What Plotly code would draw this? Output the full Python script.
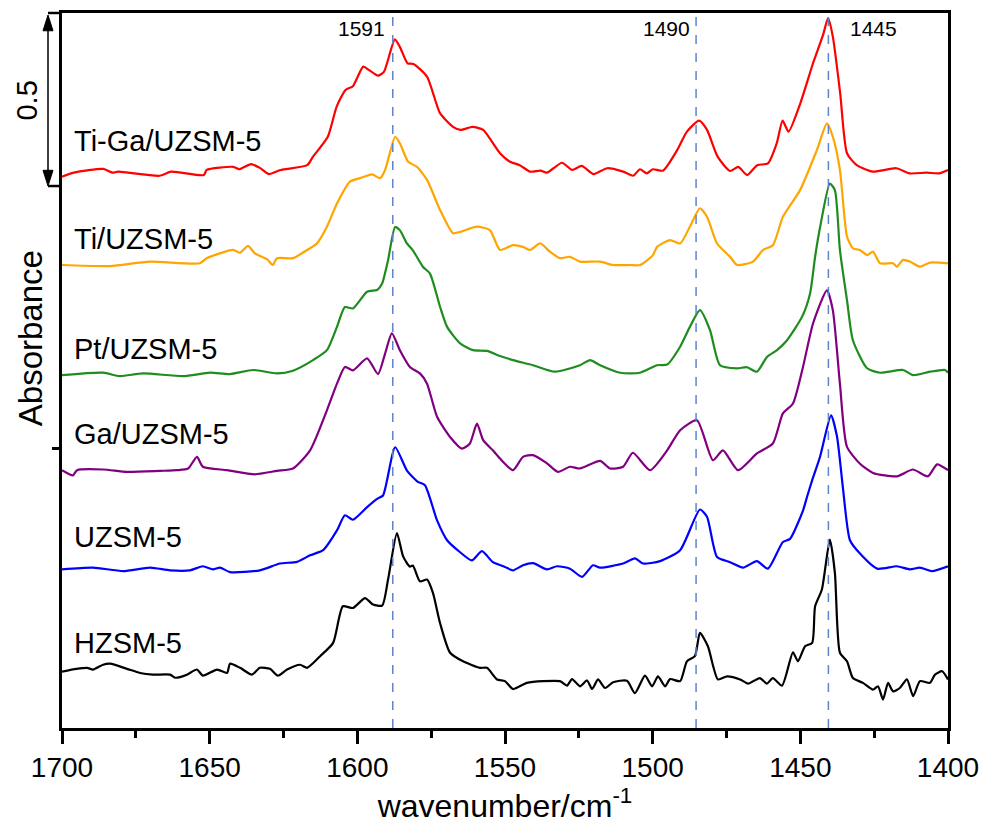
import plotly.graph_objects as go

# ---------------- data (absorbance relative to each spectrum's baseline) ----------------
series_names = ["Ti-Ga/UZSM-5", "Ti/UZSM-5", "Pt/UZSM-5", "Ga/UZSM-5", "UZSM-5", "HZSM-5"]
series_colors = ["#FF0000", "#FFA500", "#1E8C1E", "#800080", "#0000FF", "#000000"]
offsets = [1.626, 1.354, 1.032, 0.754, 0.464, 0.165]

tiga_wn = [1700, 1696, 1686, 1683, 1681, 1667, 1663, 1652, 1651, 1642, 1640, 1636, 1633, 1630, 1626,
           1617, 1615, 1610, 1607, 1604, 1601.5, 1598, 1596, 1593, 1591, 1587.3, 1585.6, 1583, 1581,
           1576.4, 1572, 1567.6, 1565, 1561, 1557.4, 1551.7, 1548.3, 1545, 1541.5, 1538, 1535.8,
           1530.7, 1527.3, 1524, 1520, 1515.4, 1510, 1506.6, 1504.3, 1502, 1500, 1496.5, 1491.7,
           1488.4, 1484.3, 1481.6, 1478, 1473.8, 1471, 1468, 1464.6, 1461, 1458, 1456, 1454, 1450,
           1445.7, 1442.3, 1440.6, 1439, 1436.5, 1434.2, 1430.9, 1425.4, 1417.5, 1413, 1407.3, 1403, 1400]
tiga_abs = [-0.014, -0.002, 0.009, -0.002, 0.001, -0.011, 0.001, -0.009, 0.006, 0.015, 0.008, 0.023,
            0.012, -0.006, 0.006, 0.020, 0.045, 0.103, 0.191, 0.240, 0.251, 0.308, 0.298, 0.282, 0.293,
            0.388, 0.366, 0.318, 0.316, 0.279, 0.172, 0.132, 0.123, 0.132, 0.123, 0.055, 0.030, 0.020,
            0.001, 0.004, -0.002, 0.027, 0.006, 0.018, -0.006, 0.011, 0.001, -0.011, 0.008, -0.004,
            0.008, 0.004, 0.064, 0.118, 0.150, 0.123, 0.045, 0.003, 0.015, -0.009, 0.020, 0.025, 0.084,
            0.150, 0.118, 0.201, 0.318, 0.401, 0.450, 0.396, 0.230, 0.055, 0.020, 0.001, 0.011, -0.004,
            -0.002, -0.004, 0.006]

ti_wn = [1700, 1683.7, 1670.2, 1653.3, 1651, 1642.1, 1639.7, 1637, 1634.7, 1630.6, 1628.6, 1627.2,
         1621.8, 1617, 1613.7, 1610.3, 1606.9, 1602.5, 1599.1, 1595, 1592.3, 1590.6, 1587.2, 1585.6,
         1582.8, 1579.8, 1576.4, 1572, 1567.6, 1565.2, 1559.5, 1555.1, 1551.7, 1547.3, 1543.9, 1541.5,
         1538.1, 1534.8, 1531.4, 1528, 1524.6, 1517.8, 1513.4, 1507.7, 1504.3, 1499.9, 1498.5, 1494.1,
         1490.7, 1487.4, 1484, 1481.6, 1478.2, 1473.8, 1471.4, 1466, 1462.6, 1459.3, 1455.9, 1450.1,
         1444.4, 1441, 1439, 1436.6, 1434.2, 1432.2, 1429.8, 1427.4, 1425.4, 1423, 1418.6, 1417.3,
         1415.2, 1412.9, 1409.5, 1406.1, 1400]
ti_abs = [0, -0.003, 0.010, 0.005, 0.020, 0.044, 0.036, 0.056, 0.034, 0.017, 0, 0.020, 0.020, 0.044,
          0.063, 0.112, 0.180, 0.244, 0.254, 0.265, 0.254, 0.278, 0.375, 0.356, 0.302, 0.287, 0.249,
          0.161, 0.093, 0.097, 0.112, 0.102, 0.044, 0.058, 0.053, 0.044, 0.063, 0.039, 0.020, 0.024,
          0.010, 0.010, 0, 0, 0, 0.029, 0.053, 0.073, 0.063, 0.112, 0.166, 0.141, 0.063, 0.024, 0,
          0.010, 0.044, 0.058, 0.141, 0.219, 0.336, 0.414, 0.375, 0.278, 0.083, 0.049, 0.044, 0.029,
          0.039, 0.005, 0.005, -0.005, 0.015, 0.010, -0.005, 0.007, 0.005]

pt_wn = [1700, 1686.1, 1680.4, 1672.6, 1659, 1649.9, 1643.1, 1635.3, 1627.2, 1621.8, 1615, 1610.3,
         1606.9, 1604.2, 1601.5, 1596.7, 1593.3, 1591.6, 1589.6, 1587.2, 1585.6, 1583.2, 1581.2,
         1577.8, 1575.4, 1572, 1569.6, 1565.2, 1560.8, 1556.1, 1551.7, 1547.3, 1540.5, 1533.1, 1524.6,
         1521.2, 1517.8, 1511, 1504.3, 1498.5, 1495.1, 1490.7, 1487.4, 1484, 1480.6, 1477.2, 1471.4,
         1468.1, 1464.7, 1461.3, 1457.9, 1454.5, 1449.4, 1446.7, 1445, 1443.3, 1440, 1438.3, 1436.6,
         1434.2, 1432.2, 1427.4, 1423, 1415.2, 1411.8, 1406.1, 1401, 1400]
pt_abs = [0, 0.007, -0.003, 0.005, -0.003, 0.007, 0.003, 0.015, 0.005, 0.013, 0.044, 0.073, 0.141,
          0.199, 0.195, 0.244, 0.249, 0.268, 0.336, 0.433, 0.424, 0.385, 0.365, 0.317, 0.297, 0.200,
          0.141, 0.093, 0.073, 0.071, 0.056, 0.044, 0.029, 0.010, 0.029, 0.044, 0.029, 0.007, 0.007,
          0.029, 0.031, 0.083, 0.141, 0.190, 0.132, 0.029, 0.020, 0.023, 0.010, 0.053, 0.073, 0.102,
          0.171, 0.239, 0.346, 0.433, 0.560, 0.541, 0.366, 0.219, 0.102, 0.020, 0.007, 0.015, 0,
          0.010, 0.015, 0.007]

ga_wn = [1700, 1696.3, 1694.9, 1686.1, 1678, 1666.8, 1661, 1657.3, 1654.3, 1652.3, 1644.1, 1634.7,
         1627.2, 1621.8, 1616, 1610.3, 1606.9, 1604.2, 1601.5, 1596.7, 1593, 1590.6, 1588.3, 1585.6,
         1582.2, 1578.8, 1576.4, 1573, 1568.6, 1564.6, 1561.9, 1559.5, 1557.4, 1554.1, 1551.7, 1547.3,
         1543.9, 1540.5, 1535.8, 1532.1, 1528, 1524.6, 1517.8, 1514.4, 1510, 1506.7, 1500.9, 1495.1,
         1490.7, 1485, 1479.6, 1476.2, 1471.1, 1464.7, 1459.3, 1455.9, 1452.5, 1449.1, 1445.7, 1441,
         1439, 1436.6, 1434.2, 1429.8, 1425.4, 1417.3, 1411.9, 1406.8, 1403.7, 1400]
ga_abs = [0, -0.015, 0, 0.002, -0.005, -0.002, 0, 0.005, 0.039, 0.010, 0, -0.012, -0.002, 0.005,
          0.058, 0.175, 0.253, 0.302, 0.292, 0.327, 0.281, 0.341, 0.400, 0.351, 0.302, 0.283, 0.253,
          0.156, 0.097, 0.063, 0.078, 0.136, 0.088, 0.058, 0.034, 0, 0.039, 0.044, 0.020, -0.005,
          0.010, 0.005, 0.027, 0.005, 0.010, 0.051, 0, 0.058, 0.117, 0.146, 0.029, 0.058, 0, 0.049,
          0.078, 0.166, 0.195, 0.302, 0.429, 0.526, 0.468, 0.253, 0.068, 0.019, -0.008, -0.018,
          0.002, -0.018, 0.017, 0]

u_wn = [1700, 1689.5, 1679.3, 1670.2, 1663.4, 1656.7, 1652.3, 1648.9, 1646.5, 1643.1, 1633, 1626.2,
        1620.4, 1616, 1611.6, 1606.9, 1604.2, 1601.5, 1596.7, 1593.3, 1591.3, 1587.2, 1583.2, 1579.5,
        1577.1, 1573, 1569.6, 1565.2, 1561.2, 1557.8, 1554.1, 1550, 1547.3, 1543.9, 1540.5, 1535.8,
        1532.4, 1528, 1523.9, 1520.2, 1517.8, 1510, 1506, 1503.3, 1497.5, 1490.7, 1484, 1481.6,
        1478.2, 1473.8, 1469.4, 1464.7, 1461, 1455.9, 1453.5, 1449.1, 1447.7, 1446, 1443.3, 1439.6,
        1437.6, 1435.6, 1433.2, 1429.8, 1424, 1417.3, 1412.9, 1409.5, 1405.4, 1400]
u_abs = [0, 0.005, -0.005, 0.005, -0.003, -0.003, 0.009, 0, 0.005, -0.008, -0.003, 0.017, 0.022,
         0.041, 0.056, 0.114, 0.158, 0.145, 0.182, 0.206, 0.216, 0.357, 0.289, 0.256, 0.246, 0.143,
         0.085, 0.050, 0.026, 0.053, 0.021, 0.007, -0.003, 0.012, 0.018, 0, 0.009, 0.002, -0.022,
         0.012, 0.005, 0.017, 0.032, 0.017, 0.024, 0.056, 0.175, 0.154, 0.036, 0.021, 0.005, 0.024,
         0.002, 0.080, 0.089, 0.172, 0.213, 0.260, 0.330, 0.450, 0.389, 0.240, 0.085, 0.046, 0.002,
         0.009, 0, 0.005, -0.005, 0.009]

h_wn = [1700, 1695.1, 1691.5, 1689.5, 1686.1, 1683.7, 1678, 1673.6, 1669.2, 1663.4, 1661.7, 1657.7,
        1654.3, 1652.3, 1647.5, 1644.1, 1643.1, 1639.7, 1635.7, 1633, 1629.6, 1626.9, 1623.8, 1619.4,
        1617, 1612.6, 1608.2, 1604.9, 1601.5, 1597.4, 1594.7, 1591.6, 1589.6, 1586.6, 1584.5, 1582.2,
        1581.2, 1578.8, 1576.4, 1574.4, 1572, 1568.6, 1564.2, 1558.5, 1556.1, 1552.7, 1550, 1547.3,
        1542.6, 1537.1, 1531.4, 1529, 1527.3, 1524.6, 1522.2, 1520.5, 1518.5, 1516.1, 1513.4, 1508.7,
        1506, 1502.6, 1500.2, 1498.2, 1495.8, 1494.1, 1490.7, 1488.4, 1485.7, 1484, 1481.3, 1477.9,
        1474.8, 1470.4, 1467.7, 1463.7, 1461.3, 1459.3, 1456.2, 1452.5, 1450.8, 1448.4, 1446, 1445,
        1442.7, 1440, 1438.3, 1436.6, 1434.2, 1432.2, 1428.8, 1425.4, 1423.7, 1422, 1420.3, 1418.6,
        1416.3, 1413.9, 1411.8, 1409.5, 1406.1, 1404.4, 1402, 1400]
h_abs = [0, 0.008, 0.011, 0.006, 0.020, 0.023, 0.008, -0.004, -0.009, -0.009, -0.018, -0.009, 0.006,
         -0.012, 0.006, -0.004, 0.023, 0.011, -0.009, 0.011, 0.008, -0.012, 0.006, 0.020, 0.011,
         0.045, 0.084, 0.191, 0.186, 0.215, 0.196, 0.193, 0.269, 0.405, 0.337, 0.307, 0.310, 0.264,
         0.269, 0.230, 0.142, 0.055, 0.030, 0.011, 0.011, -0.023, -0.028, -0.051, -0.033, -0.028,
         -0.028, -0.041, -0.022, -0.043, -0.026, -0.051, -0.023, -0.048, -0.031, -0.027, -0.063,
         -0.012, -0.043, -0.014, -0.043, -0.022, -0.028, 0.030, 0.045, 0.113, 0.074, -0.023, -0.014,
         -0.023, -0.035, -0.019, -0.035, -0.019, -0.041, 0.056, 0.030, 0.074, 0.084, 0.191, 0.240,
         0.386, 0.289, 0.055, 0.030, -0.019, -0.033, -0.053, -0.043, -0.082, -0.033, -0.058, -0.048,
         -0.023, -0.072, -0.028, -0.033, -0.009, 0.001, -0.023]

peak_positions = [1588.0, 1485.3, 1440.5]
peak_labels = ["1591", "1490", "1445"]
scale_bar_value = 0.5

spectra_wn = [tiga_wn, ti_wn, pt_wn, ga_wn, u_wn, h_wn]
spectra_abs = [tiga_abs, ti_abs, pt_abs, ga_abs, u_abs, h_abs]

# ---------------- figure ----------------
FONT = "Arial, Liberation Sans, sans-serif"
PLOT_W = 886.0
fig = go.Figure()

for name, color, off, wn, ab in zip(series_names, series_colors, offsets, spectra_wn, spectra_abs):
    fig.add_trace(go.Scatter(
        x=wn, y=[off + v for v in ab], mode="lines", name=name,
        line=dict(color=color, width=2.2, shape="spline", smoothing=0.6),
        showlegend=False, cliponaxis=True,
    ))

# dashed reference lines
for p in peak_positions:
    fig.add_shape(type="line", xref="x", yref="paper", x0=p, x1=p, y0=0, y1=1,
                  line=dict(color="#5B85CF", width=1.5, dash="dash"))

# peak labels
label_pos = [(1590.0, "right"), (1486.7, "right"), (1433.9, "left")]
for txt, (xp, anc) in zip(peak_labels, label_pos):
    fig.add_annotation(x=xp, y=2.047, xref="x", yref="y", text=txt, showarrow=False,
                       xanchor=anc, yanchor="middle", font=dict(size=21, color="#000", family=FONT))

# series labels
label_y = [1.716, 1.430, 1.108, 0.860, 0.558, 0.249]
for name, ly in zip(series_names, label_y):
    fig.add_annotation(x=1696.6, y=ly, xref="x", yref="y", text=name, showarrow=False,
                       xanchor="left", yanchor="middle", font=dict(size=29, color="#000", family=FONT))

# scale bar (0.5 absorbance): vertical double arrow with end brackets
bar_top = 2.085
bar_bottom = bar_top - scale_bar_value
bx = -14 / PLOT_W          # paper x of the arrow
head_h = 0.046             # arrow-head height (absorbance units)
head_w = 5 / PLOT_W        # arrow-head half width (paper units)
fig.add_shape(type="line", xref="paper", yref="y", x0=bx, x1=bx,
              y0=bar_bottom + head_h * 0.8, y1=bar_top - head_h * 0.8,
              line=dict(color="#000", width=1.5))
fig.add_shape(type="path", xref="paper", yref="y",
              path=f"M {bx},{bar_top} L {bx - head_w},{bar_top - head_h} L {bx + head_w},{bar_top - head_h} Z",
              fillcolor="#000", line=dict(color="#000", width=1))
fig.add_shape(type="path", xref="paper", yref="y",
              path=f"M {bx},{bar_bottom} L {bx - head_w},{bar_bottom + head_h} L {bx + head_w},{bar_bottom + head_h} Z",
              fillcolor="#000", line=dict(color="#000", width=1))
fig.add_shape(type="line", xref="paper", yref="y", x0=bx, x1=0, y0=bar_bottom, y1=bar_bottom,
              line=dict(color="#000", width=2.5))
fig.add_shape(type="line", xref="paper", yref="paper", x0=bx, x1=0, y0=1, y1=1,
              line=dict(color="#000", width=2.5))
fig.add_annotation(x=-35 / PLOT_W, y=(bar_top + bar_bottom) / 2, xref="paper", yref="y",
                   text=str(scale_bar_value), textangle=-90, showarrow=False,
                   xanchor="center", yanchor="middle",
                   font=dict(size=29, color="#000", family=FONT))

# y title
fig.add_annotation(x=-32 / PLOT_W, y=1.14, xref="paper", yref="y", text="Absorbance", textangle=-90,
                   showarrow=False, xanchor="center", yanchor="middle",
                   font=dict(size=33, color="#000", family=FONT))

fig.update_layout(
    width=985, height=825,
    margin=dict(l=62, r=37, t=13, b=97, autoexpand=False),
    paper_bgcolor="white", plot_bgcolor="white",
    font=dict(family=FONT, color="#000"),
    showlegend=False,
    xaxis=dict(
        range=[1700, 1400], tick0=1400, dtick=50, automargin=False,
        ticks="outside", ticklen=13, tickwidth=2.5, tickcolor="#000",
        minor=dict(ticks="outside", dtick=25, tick0=1400, ticklen=7, tickwidth=2.5, tickcolor="#000"),
        showline=True, linewidth=2.5, linecolor="#000", mirror=True,
        showgrid=False, zeroline=False,
        tickfont=dict(size=28, family=FONT, color="#000"),
        title=dict(text="wavenumber/cm<sup>-1</sup>", font=dict(size=32, family=FONT, color="#000"),
                   standoff=8),
    ),
    yaxis=dict(
        range=[0, 2.091], tickvals=[0.816], showticklabels=False, automargin=False,
        ticks="outside", ticklen=7, tickwidth=2.5, tickcolor="#000",
        showline=True, linewidth=2.5, linecolor="#000", mirror=True,
        showgrid=False, zeroline=False,
    ),
)

fig.write_html("out.html")
